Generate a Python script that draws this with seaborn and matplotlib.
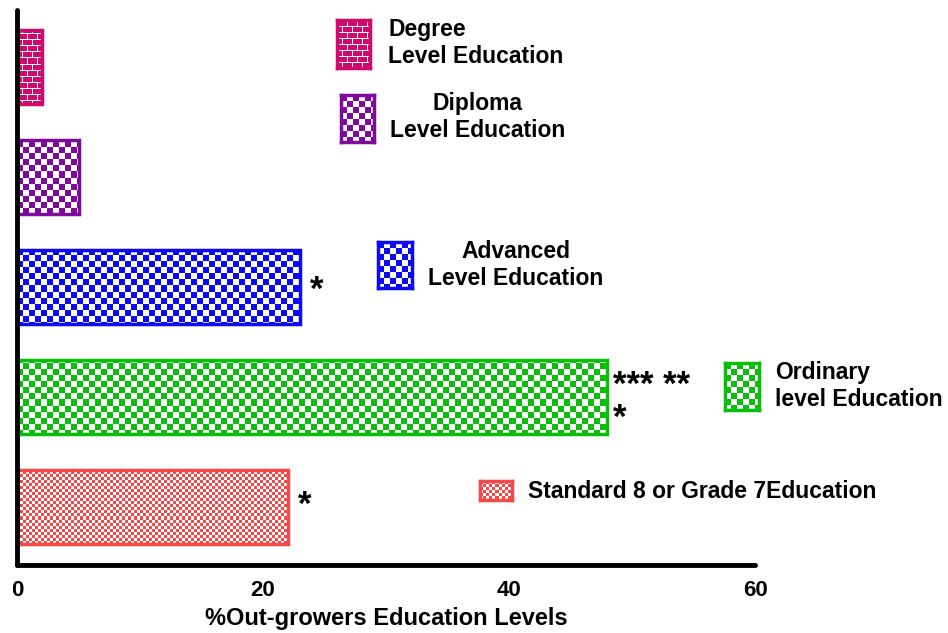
import numpy as np
import pandas as pd
import matplotlib
matplotlib.use("Agg")
import matplotlib.pyplot as plt
import seaborn as sns

# ---------------- data ----------------
levels = ["Degree", "Diploma", "Advanced", "Ordinary", "Standard"]
values = [2.0, 5.0, 23.0, 48.0, 22.0]
legend_labels = ["Degree\nLevel Education", "Diploma\nLevel Education",
                 "Advanced\nLevel Education", "Ordinary\nlevel Education",
                 "Standard 8 or Grade 7Education"]
stars = {"Advanced": ["*"], "Ordinary": ["*** **", "*"], "Standard": ["*"]}
x_ticks = [0, 20, 40, 60]
x_label = "%Out-growers Education Levels"

colors = ["#CF0A6C", "#7D0A9C", "#0A0AF5", "#0ABF0A", "#F54848"]
patterns = ["brick", "checker", "checker", "checker", "fine"]

sns.set_style("white")
plt.rcParams["font.family"] = ["Liberation Sans", "DejaVu Sans"]
plt.rcParams["font.weight"] = "bold"
plt.rcParams["text.color"] = "black"
plt.rcParams["axes.labelcolor"] = "black"
plt.rcParams["xtick.color"] = "black"
plt.rcParams["ytick.color"] = "black"

W, H = 948, 633
fig = plt.figure(figsize=(W / 100, H / 100), dpi=100)

ax_l, ax_r, ax_t, ax_b = 17, 755, 10, 565
ax = fig.add_axes([ax_l / W, 1 - ax_b / H, (ax_r - ax_l) / W, (ax_b - ax_t) / H])


def hex_rgb(c):
    c = c.lstrip("#")
    return np.array([int(c[i:i + 2], 16) / 255 for i in (0, 2, 4)])


def texture(kind, color, h, w):
    yy, xx = np.mgrid[0:h, 0:w]
    if kind == "checker":
        c = 6
        colored = ((xx // c + yy // c) % 2 == 0)
    elif kind == "fine":
        c = 3
        colored = ((xx // c + yy // c) % 2 == 0)
    else:  # brick
        row = yy // 6
        white = (yy % 6 == 0) | (((xx + (row % 2) * 5) % 10) == 0)
        colored = ~white
    img = np.ones((h, w, 3))
    img[colored] = hex_rgb(color)
    return img


df = pd.DataFrame({"level": levels, "value": values})
sns.barplot(data=df, x="value", y="level", hue="level", palette=colors,
            orient="h", width=0.68, legend=False, ax=ax, saturation=1)

ylim = (4.527, -0.518)
xlim = (0, 60)
ax_w_px, ax_h_px = ax_r - ax_l, ax_b - ax_t

for patch, col, pat in zip(ax.patches, colors, patterns):
    im = ax.imshow(texture(pat, col, ax_h_px, ax_w_px),
                   extent=(xlim[0], xlim[1], ylim[0], ylim[1]),
                   aspect="auto", interpolation="nearest", origin="upper", zorder=0.5)
    im.set_clip_path(patch)
    patch.set_facecolor("none")
    patch.set_edgecolor(col)
    patch.set_linewidth(2.5)
    patch.set_zorder(2)

ax.set_xlim(*xlim)
ax.set_ylim(*ylim)

# significance stars
px_per_unit = (ax_r - ax_l) / 60.0
fs_star = 25
em_px = fs_star * 100 / 72
star_pos = {"Advanced": [(311, 285)], "Ordinary": [(614, 380), (614, 413)],
            "Standard": [(299, 500)]}
for lev, texts in stars.items():
    for txt, (px, py) in zip(texts, star_pos[lev]):
        xd = (px - 1 - ax_l) / px_per_unit
        base_px = py + 0.55 * em_px - 4
        yd = ylim[1] + (base_px - ax_t) / 110.0
        ax.text(xd, yd, txt, ha="left", va="baseline", fontsize=fs_star,
                fontweight="bold", color="black", clip_on=False)

# axes styling
for s in ["top", "right"]:
    ax.spines[s].set_visible(False)
for s in ["left", "bottom"]:
    ax.spines[s].set_linewidth(3.5)
    ax.spines[s].set_color("black")
    ax.spines[s].set_capstyle("round")
ax.set_xticks(x_ticks)
ax.set_xticklabels([str(t) for t in x_ticks], fontsize=16, fontweight="bold")
ax.set_yticks(range(len(levels)))
ax.set_yticklabels([])
ax.tick_params(axis="both", direction="out", length=8, width=3, color="black")
ax.tick_params(axis="x", pad=3)
ax.set_ylabel("")
ax.set_xlabel(x_label, fontsize=17, fontweight="bold", labelpad=4)

# custom legend swatches + text
swatches = [(337, 20, 370, 68), (341, 95, 374, 142), (378, 242, 412, 288),
            (725, 363, 759, 410), (480, 481, 512, 500)]
text_specs = [(388, 43, "left"), (478, 117, "center"), (516, 265, "center"),
              (775, 386, "left"), (528, 491, "left")]
for (x0, y0, x1, y1), col, pat, lab, (tx, ty, ha) in zip(
        swatches, colors, patterns, legend_labels, text_specs):
    sax = fig.add_axes([x0 / W, 1 - y1 / H, (x1 - x0) / W, (y1 - y0) / H])
    sax.imshow(texture(pat, col, y1 - y0, x1 - x0), aspect="auto",
               interpolation="nearest")
    sax.set_xticks([])
    sax.set_yticks([])
    for sp in sax.spines.values():
        sp.set_color(col)
        sp.set_linewidth(2.5)
    fig.text(tx / W, 1 - ty / H, lab, ha=ha, va="center", multialignment=ha,
             fontsize=16.5, fontweight="bold", linespacing=1.22, color="black")

fig.savefig("out.png", dpi=100)
